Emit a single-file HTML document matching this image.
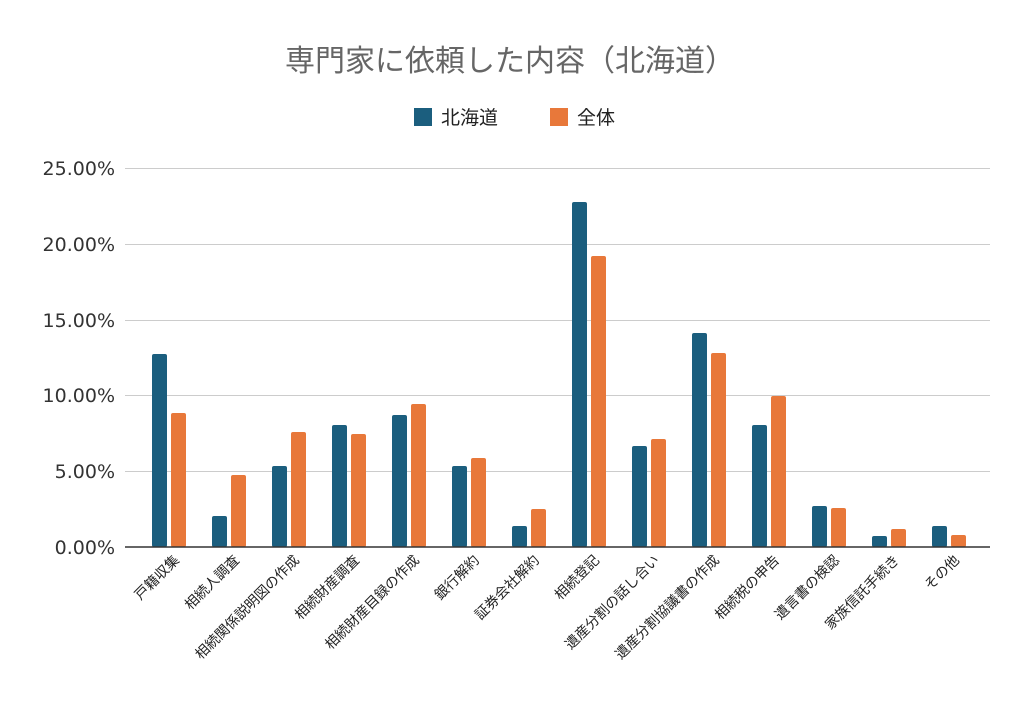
<!DOCTYPE html>
<html><head><meta charset="utf-8"><style>
html,body{margin:0;padding:0;background:#fff;}
svg{display:block;font-family:"Liberation Sans","Noto Sans CJK JP",sans-serif;}
</style></head><body>
<svg width="1024" height="705" viewBox="0 0 1024 705">
<text x="510" y="71" text-anchor="middle" font-size="30" fill="#666" font-family="'DejaVu Sans','Noto Sans CJK JP',sans-serif">専門家に依頼した内容（北海道）</text>
<rect x="414" y="108" width="18" height="18" fill="#1b5e7e"/>
<text x="441" y="124" font-size="19" fill="#222">北海道</text>
<rect x="550" y="108" width="18" height="18" fill="#e8783a"/>
<text x="577" y="124" font-size="19" fill="#222">全体</text>
<g stroke="#ccc" stroke-width="1">
<line x1="125" x2="990" y1="168.5" y2="168.5"/>
<line x1="125" x2="990" y1="244.5" y2="244.5"/>
<line x1="125" x2="990" y1="320.5" y2="320.5"/>
<line x1="125" x2="990" y1="395.5" y2="395.5"/>
<line x1="125" x2="990" y1="471.5" y2="471.5"/>
</g>
<g font-size="19" fill="#333" text-anchor="end" font-family="'DejaVu Sans',sans-serif">
<text x="115" y="175">25.00%</text>
<text x="115" y="251">20.00%</text>
<text x="115" y="327">15.00%</text>
<text x="115" y="402">10.00%</text>
<text x="115" y="478">5.00%</text>
<text x="115" y="554">0.00%</text>
</g>
<g fill="#1b5e7e">
<rect x="152" y="354" width="15" height="193" rx="2"/>
<rect x="212" y="516" width="15" height="31" rx="2"/>
<rect x="272" y="466" width="15" height="81" rx="2"/>
<rect x="332" y="425" width="15" height="122" rx="2"/>
<rect x="392" y="415" width="15" height="132" rx="2"/>
<rect x="452" y="466" width="15" height="81" rx="2"/>
<rect x="512" y="526" width="15" height="21" rx="2"/>
<rect x="572" y="202" width="15" height="345" rx="2"/>
<rect x="632" y="446" width="15" height="101" rx="2"/>
<rect x="692" y="333" width="15" height="214" rx="2"/>
<rect x="752" y="425" width="15" height="122" rx="2"/>
<rect x="812" y="506" width="15" height="41" rx="2"/>
<rect x="872" y="536" width="15" height="11" rx="2"/>
<rect x="932" y="526" width="15" height="21" rx="2"/>
</g>
<g fill="#e8783a">
<rect x="171" y="413" width="15" height="134" rx="2"/>
<rect x="231" y="475" width="15" height="72" rx="2"/>
<rect x="291" y="432" width="15" height="115" rx="2"/>
<rect x="351" y="434" width="15" height="113" rx="2"/>
<rect x="411" y="404" width="15" height="143" rx="2"/>
<rect x="471" y="458" width="15" height="89" rx="2"/>
<rect x="531" y="509" width="15" height="38" rx="2"/>
<rect x="591" y="256" width="15" height="291" rx="2"/>
<rect x="651" y="439" width="15" height="108" rx="2"/>
<rect x="711" y="353" width="15" height="194" rx="2"/>
<rect x="771" y="396" width="15" height="151" rx="2"/>
<rect x="831" y="508" width="15" height="39" rx="2"/>
<rect x="891" y="529" width="15" height="18" rx="2"/>
<rect x="951" y="535" width="15" height="12" rx="2"/>
</g>
<line x1="125" x2="990" y1="547" y2="547" stroke="#333" stroke-width="1.5"/>
<g font-size="14" fill="#222" text-anchor="end">
<text transform="translate(180,561) rotate(-45)">戸籍収集</text>
<text transform="translate(240,561) rotate(-45)">相続人調査</text>
<text transform="translate(300,561) rotate(-45)">相続関係説明図の作成</text>
<text transform="translate(360,561) rotate(-45)">相続財産調査</text>
<text transform="translate(420,561) rotate(-45)">相続財産目録の作成</text>
<text transform="translate(480,561) rotate(-45)">銀行解約</text>
<text transform="translate(540,561) rotate(-45)">証券会社解約</text>
<text transform="translate(600,561) rotate(-45)">相続登記</text>
<text transform="translate(660,561) rotate(-45)">遺産分割の話し合い</text>
<text transform="translate(720,561) rotate(-45)">遺産分割協議書の作成</text>
<text transform="translate(780,561) rotate(-45)">相続税の申告</text>
<text transform="translate(840,561) rotate(-45)">遺言書の検認</text>
<text transform="translate(900,561) rotate(-45)">家族信託手続き</text>
<text transform="translate(960,561) rotate(-45)">その他</text>
</g>
</svg>
</body></html>
